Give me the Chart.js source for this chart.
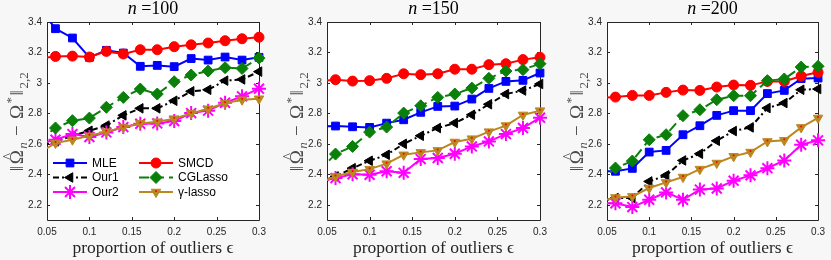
<!DOCTYPE html>
<html>
<head>
<meta charset="utf-8">
<script src="https://cdn.jsdelivr.net/npm/chart.js@4.4.1/dist/chart.umd.min.js"></script>
<style>
  html, body { margin: 0; padding: 0; background: #f7f7f7; }
  #wrap { position: relative; width: 831px; height: 260px; }
  .panel { position: absolute; top: 0; height: 260px; }
</style>
</head>
<body>
<div id="wrap">
  <div class="panel" style="left:0;width:277px"><canvas id="c0"></canvas></div>
  <div class="panel" style="left:277px;width:279px"><canvas id="c1"></canvas></div>
  <div class="panel" style="left:556px;width:275px"><canvas id="c2"></canvas></div>
</div>
<script>
// x values (first point sits just left of the visible range)
const eps = [0.04, 0.06, 0.08, 0.10, 0.12, 0.14, 0.16, 0.18, 0.20, 0.22, 0.24, 0.26, 0.28, 0.30];
const sampleSizes = [100, 150, 200];
const xTicks = [0.05, 0.1, 0.15, 0.2, 0.25, 0.3];
const yTicks = [2.2, 2.4, 2.6, 2.8, 3, 3.2, 3.4];

// one row per panel (n = 100, 150, 200)
const mle = [
  [3.50, 3.356, 3.295, 3.168, 3.214, 3.196, 3.109, 3.115, 3.107, 3.16, 3.15, 3.17, 3.15, 3.168],
  [2.715, 2.717, 2.712, 2.708, 2.736, 2.758, 2.807, 2.846, 2.848, 2.894, 2.964, 3.01, 3.017, 3.065],
  [2.42, 2.42, 2.439, 2.546, 2.557, 2.66, 2.719, 2.787, 2.818, 2.818, 2.93, 2.951, 3.028, 3.032]
];
const smcd = [
  [3.16, 3.174, 3.176, 3.17, 3.207, 3.19, 3.218, 3.218, 3.238, 3.25, 3.262, 3.277, 3.29, 3.30],
  [3.01, 3.021, 3.012, 3.015, 3.03, 3.06, 3.054, 3.06, 3.09, 3.09, 3.12, 3.126, 3.153, 3.168],
  [2.90, 2.907, 2.918, 2.918, 2.938, 2.953, 2.951, 2.973, 2.986, 2.984, 3.01, 3.01, 3.045, 3.07]
];
const our1 = [
  [2.58, 2.616, 2.653, 2.686, 2.72, 2.787, 2.833, 2.833, 2.883, 2.945, 2.955, 3.015, 3.023, 3.074],
  [2.33, 2.386, 2.44, 2.489, 2.528, 2.60, 2.653, 2.704, 2.737, 2.791, 2.86, 2.927, 2.95, 2.993],
  [2.22, 2.244, 2.244, 2.353, 2.393, 2.491, 2.535, 2.62, 2.684, 2.708, 2.835, 2.868, 2.955, 2.96]
];
const cglasso = [
  [2.62, 2.704, 2.752, 2.769, 2.84, 2.905, 2.96, 2.927, 3.008, 3.052, 3.078, 3.10, 3.095, 3.163],
  [2.42, 2.533, 2.583, 2.677, 2.71, 2.802, 2.85, 2.905, 2.927, 2.966, 3.03, 3.078, 3.087, 3.126],
  [2.35, 2.441, 2.487, 2.627, 2.66, 2.785, 2.824, 2.89, 2.916, 2.916, 3.015, 3.026, 3.104, 3.109]
];
const our2 = [
  [2.60, 2.627, 2.664, 2.645, 2.675, 2.71, 2.732, 2.734, 2.75, 2.802, 2.818, 2.87, 2.912, 2.962],
  [2.35, 2.375, 2.40, 2.397, 2.42, 2.41, 2.50, 2.507, 2.535, 2.583, 2.616, 2.664, 2.704, 2.772],
  [2.21, 2.21, 2.185, 2.233, 2.281, 2.233, 2.30, 2.307, 2.358, 2.393, 2.44, 2.491, 2.594, 2.623]
];
const gammaLasso = [
  [2.54, 2.605, 2.627, 2.653, 2.68, 2.708, 2.734, 2.745, 2.765, 2.80, 2.83, 2.866, 2.89, 2.896],
  [2.34, 2.386, 2.415, 2.434, 2.47, 2.528, 2.544, 2.557, 2.612, 2.634, 2.68, 2.72, 2.79, 2.818],
  [2.22, 2.248, 2.255, 2.31, 2.347, 2.382, 2.434, 2.474, 2.518, 2.546, 2.616, 2.623, 2.708, 2.77]
];

// legend order is row by row: MLE | SMCD, Our1 | CGLasso, Our2 | γ-lasso
const series = [
  { label: 'MLE', values: mle, color: '#0000ff', shape: 'rect', r: 5.5, rot: 0, dash: [], bw: 1 },
  { label: 'SMCD', values: smcd, color: '#ff0000', shape: 'circle', r: 5, rot: 0, dash: [], bw: 1 },
  { label: 'Our1', values: our1, color: '#000000', shape: 'triangle', r: 5.5, rot: -90, dash: [6, 3, 2, 3], bw: 1 },
  { label: 'CGLasso', values: cglasso, color: '#0a800a', shape: 'rectRot', r: 6, rot: 0, dash: [10, 5], bw: 1 },
  { label: 'Our2', values: our2, color: '#ff00ff', shape: 'star', r: 7, rot: 0, dash: [], bw: 2 },
  { label: 'γ-lasso', values: gammaLasso, color: '#bb8720', shape: 'triangle', r: 5.5, rot: 180, dash: [], bw: 1, dot: true }
];
// MATLAB plot order (later = on top)
const drawRank = { 'MLE': 0, 'Our1': 1, 'Our2': 2, 'SMCD': 3, 'CGLasso': 4, 'γ-lasso': 5 };

const sans = '"Liberation Sans", Arial, sans-serif';
const serif = '"Liberation Serif", "DejaVu Serif", serif';
const axisColor = '#262626';

const frame = {
  id: 'frame',
  beforeDraw(chart) {
    const { ctx, chartArea: a } = chart;
    ctx.save();
    ctx.fillStyle = '#ffffff';
    ctx.fillRect(a.left, a.top, a.right - a.left, a.bottom - a.top);
    ctx.restore();
  },
  beforeDatasetsDraw(chart) {
    const { ctx, chartArea: a, scales } = chart;
    ctx.save();
    ctx.strokeStyle = axisColor;
    ctx.lineWidth = 1;
    ctx.beginPath();
    ctx.rect(Math.round(a.left) + 0.5, Math.round(a.top) + 0.5,
      Math.round(a.right - a.left), Math.round(a.bottom - a.top));
    xTicks.forEach(v => {
      const px = Math.round(scales.x.getPixelForValue(v)) + 0.5;
      ctx.moveTo(px, a.bottom); ctx.lineTo(px, a.bottom - 3);
      ctx.moveTo(px, a.top); ctx.lineTo(px, a.top + 3);
    });
    yTicks.forEach(v => {
      const py = Math.round(scales.y.getPixelForValue(v)) + 0.5;
      ctx.moveTo(a.left, py); ctx.lineTo(a.left + 3, py);
      ctx.moveTo(a.right, py); ctx.lineTo(a.right - 3, py);
    });
    ctx.stroke();
    ctx.restore();
  },
  afterDatasetsDraw(chart) {
    // small red dot inside the γ-lasso triangles
    const { ctx, chartArea: a } = chart;
    chart.data.datasets.forEach((ds, i) => {
      if (!ds.centerDot) return;
      ctx.save();
      ctx.fillStyle = '#ff0000';
      chart.getDatasetMeta(i).data.forEach(pt => {
        if (pt.x < a.left - 1 || pt.x > a.right + 1) return;
        ctx.beginPath();
        ctx.arc(pt.x, pt.y - 1, 1, 0, Math.PI * 2);
        ctx.fill();
      });
      ctx.restore();
    });
  },
  afterDraw(chart) {
    const { ctx, chartArea: a } = chart;
    const n = chart.options.plugins.frame.n;
    const cx = (a.left + a.right) / 2;
    ctx.save();
    ctx.fillStyle = '#000';
    ctx.textBaseline = 'alphabetic';
    // title: italic n, then " =100"
    ctx.font = 'italic 18px ' + serif;
    const w1 = ctx.measureText('n').width;
    ctx.font = '18px ' + serif;
    const rest = ' =' + n;
    const w2 = ctx.measureText(rest).width;
    let x0 = cx - (w1 + w2) / 2;
    ctx.font = 'italic 18px ' + serif;
    ctx.fillText('n', x0, 14);
    ctx.font = '18px ' + serif;
    ctx.fillText(rest, x0 + w1, 14);

    // x label
    ctx.fillStyle = axisColor;
    ctx.font = '17.5px ' + serif;
    ctx.textAlign = 'center';
    ctx.fillText('proportion of outliers ϵ', cx, 253);

    // y label  ‖Ω̂_n − Ω*‖_{2,2}
    const big = '19px ' + serif, small = '13px ' + serif;
    const parts = [
      { t: '‖', f: big, dy: 0 },
      { t: 'Ω', f: big, dy: 0, hat: true },
      { t: 'n', f: 'italic ' + small, dy: 4 },
      { t: ' − ', f: big, dy: 0 },
      { t: 'Ω', f: big, dy: 0 },
      { t: '*', f: small, dy: -8 },
      { t: '‖', f: big, dy: 0 },
      { t: '2,2', f: small, dy: 5 }
    ];
    ctx.textAlign = 'left';
    let total = 0;
    parts.forEach(p => { ctx.font = p.f; p.w = ctx.measureText(p.t).width + 1.5; total += p.w; });
    ctx.translate(a.left - 24, (a.top + a.bottom) / 2);
    ctx.rotate(-Math.PI / 2);
    let x = -total / 2;
    ctx.fillStyle = '#4a4a4a';
    parts.forEach(p => {
      ctx.font = p.f;
      ctx.fillText(p.t, x, p.dy);
      if (p.hat) {
        ctx.font = '14px ' + serif;
        ctx.textAlign = 'center';
        ctx.fillText('^', x + p.w / 2, -10);
        ctx.textAlign = 'left';
      }
      x += p.w;
    });
    ctx.restore();

    if (chart.options.plugins.frame.legend) drawLegend(chart);
  }
};

function drawLegend(chart) {
  const { ctx, chartArea: a } = chart;
  const rowsY = [a.bottom - 57, a.bottom - 42.5, a.bottom - 28];
  const colsX = [a.left + 6, a.left + 92];
  ctx.save();
  ctx.font = '12px ' + sans;
  ctx.textBaseline = 'middle';
  series.forEach((s, i) => {
    const x = colsX[i % 2], y = rowsY[Math.floor(i / 2)];
    ctx.strokeStyle = s.color;
    ctx.lineWidth = 2;
    ctx.setLineDash(s.dash);
    ctx.beginPath();
    ctx.moveTo(x, y); ctx.lineTo(x + 34, y);
    ctx.stroke();
    ctx.setLineDash([]);
    ctx.fillStyle = s.color;
    ctx.lineWidth = s.bw;
    Chart.helpers.drawPoint(ctx, { pointStyle: s.shape, radius: s.r, rotation: s.rot, borderWidth: s.bw }, x + 17, y);
    if (s.dot) {
      ctx.fillStyle = '#ff0000';
      ctx.beginPath(); ctx.arc(x + 17, y - 1, 1, 0, Math.PI * 2); ctx.fill();
    }
    ctx.fillStyle = '#000';
    ctx.fillText(s.label, x + 39, y + 0.5);
  });
  ctx.restore();
}

const panelAxisWidth = [47, 50, 51];
const panelRightPad = [18, 16, 11];

sampleSizes.forEach((n, p) => {
  const datasets = series.map(s => ({
    label: s.label,
    data: eps.map((x, i) => ({ x: x, y: s.values[p][i] })),
    borderColor: s.color,
    backgroundColor: s.color,
    borderWidth: 2,
    borderDash: s.dash,
    pointStyle: s.shape,
    pointRadius: s.r,
    pointRotation: s.rot,
    pointBackgroundColor: s.color,
    pointBorderColor: s.color,
    pointBorderWidth: s.bw,
    pointHoverRadius: s.r,
    tension: 0,
    clip: { left: 0, top: 0, right: 10, bottom: 10 },
    order: 5 - drawRank[s.label],
    centerDot: !!s.dot
  }));

  new Chart(document.getElementById('c' + p), {
    type: 'line',
    data: { datasets },
    options: {
      responsive: true,
      maintainAspectRatio: false,
      animation: false,
      events: [],
      layout: { padding: { top: 22, right: panelRightPad[p], left: 0, bottom: 0 } },
      plugins: {
        legend: { display: false },
        tooltip: { enabled: false },
        frame: { n: n, legend: p === 0 }
      },
      scales: {
        x: {
          type: 'linear',
          min: 0.05,
          max: 0.3,
          afterBuildTicks: s => { s.ticks = xTicks.map(v => ({ value: v })); },
          afterFit: s => { s.height = 40; },
          grid: { display: false, drawTicks: false },
          border: { display: false },
          ticks: {
            padding: 6,
            autoSkip: false,
            maxRotation: 0,
            color: axisColor,
            font: { family: sans, size: 10 },
            callback: v => String(+v.toFixed(2))
          }
        },
        y: {
          type: 'linear',
          min: 2.1,
          max: 3.4,
          afterBuildTicks: s => { s.ticks = yTicks.map(v => ({ value: v })); },
          afterFit: s => { s.width = panelAxisWidth[p]; },
          grid: { display: false, drawTicks: false },
          border: { display: false },
          ticks: {
            padding: 5,
            autoSkip: false,
            color: axisColor,
            font: { family: sans, size: 10 },
            callback: v => String(+v.toFixed(2))
          }
        }
      }
    },
    plugins: [frame]
  });
});
</script>
</body>
</html>
